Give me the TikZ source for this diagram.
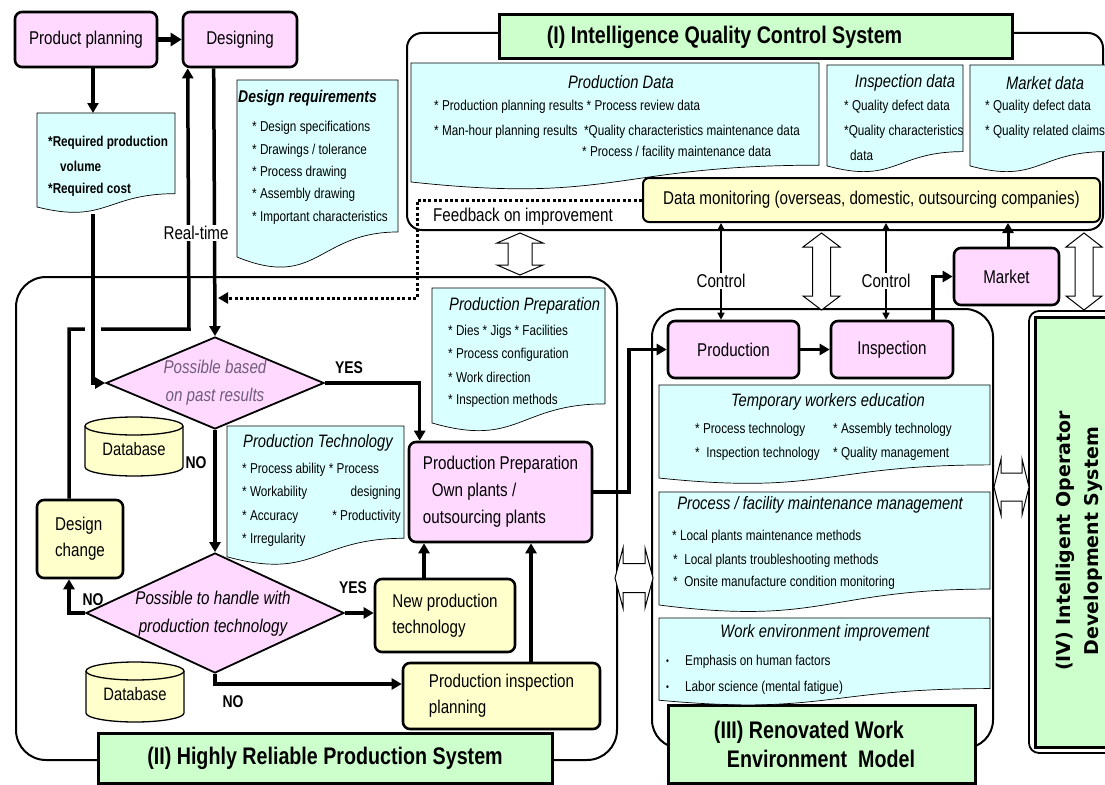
\documentclass[tikz,border=0pt]{standalone}
\usepackage{fontspec}
\setmainfont{Liberation Sans}[FakeStretch=0.82]
\newfontfamily\ivfont{DejaVu Sans}
\usetikzlibrary{arrows.meta,shapes.geometric}

\definecolor{pinkc}{RGB}{255,217,255}
\definecolor{cyanc}{RGB}{217,255,255}
\definecolor{yellowc}{RGB}{255,255,204}
\definecolor{greenc}{RGB}{204,255,204}
\definecolor{dtext}{RGB}{112,92,122}

\newcommand\setfs[2]{\fontsize{#1pt}{#2pt}\selectfont}

% document symbol with a wavy bottom: x1, top, x2, height
\newcommand\docshape[4]{%
  \filldraw[docfill] (#1,#2) -- (#3,#2) -- (#3,{#2+0.802*#4})
    .. controls ({0.5*(#1+#3)},{#2+0.802*#4}) and ({0.5*(#1+#3)},{#2+1.1075*#4}) ..
    (#1,{#2+0.934*#4}) -- cycle;}

% database cylinder: centre x, top, x radius, bottom
\newcommand\dbcyl[4]{%
  \filldraw[dbst] ({#1-#3},{#2+9}) -- ({#1-#3},{#4-9})
    .. controls ({#1-#3},{#4-4}) and ({#1-0.552*#3},{#4}) .. (#1,#4)
    .. controls ({#1+0.552*#3},{#4}) and ({#1+#3},{#4-4}) .. ({#1+#3},{#4-9})
    -- ({#1+#3},{#2+9});
  \filldraw[dbst] (#1,{#2+9}) ellipse [x radius=#3, y radius=9];}

% hollow double arrows
\newcommand\vdarrow[6]{% cx, ytop, ybottom, head half, shaft half, head length
  \filldraw[hollow] (#1,#2) -- ({#1+#4},{#2+#6}) -- ({#1+#5},{#2+#6}) -- ({#1+#5},{#3-#6})
    -- ({#1+#4},{#3-#6}) -- (#1,#3) -- ({#1-#4},{#3-#6}) -- ({#1-#5},{#3-#6})
    -- ({#1-#5},{#2+#6}) -- ({#1-#4},{#2+#6}) -- cycle;}
\newcommand\hdarrow[6]{% cy, xleft, xright, head half, shaft half, head length
  \filldraw[hollow] (#2,#1) -- ({#2+#6},{#1-#4}) -- ({#2+#6},{#1-#5}) -- ({#3-#6},{#1-#5})
    -- ({#3-#6},{#1-#4}) -- (#3,#1) -- ({#3-#6},{#1+#4}) -- ({#3-#6},{#1+#5})
    -- ({#2+#6},{#1+#5}) -- ({#2+#6},{#1+#4}) -- cycle;}

\tikzset{
  box/.style={draw, line width=2.6pt, rounded corners=7pt, inner sep=0pt, font=\setfs{18.5}{26}},
  pinkbox/.style={box, fill=pinkc},
  ylbox/.style={box, fill=yellowc},
  titlebox/.style={draw, line width=3pt, fill=greenc, inner sep=0pt, font=\bfseries\setfs{24}{29}, align=center},
  sysframe/.style={draw, line width=2pt, rounded corners=#1},
  docfill/.style={draw, line width=0.7pt, fill=cyanc},
  item/.style={inner sep=0pt, anchor=west, font=\setfs{14.3}{17}},
  doctitle/.style={inner sep=0pt, font=\itshape\setfs{18}{20}},
  flow/.style={line width=3.5pt, -{Triangle[length=10pt,width=11pt]}},
  ctrl/.style={line width=1.3pt, {Triangle[length=7pt,width=7pt]}-{Triangle[length=7pt,width=7pt]}},
  lbl/.style={inner sep=1.5pt, font=\setfs{18.5}{20}},
  yn/.style={inner sep=0pt, font=\bfseries\setfs{17}{19}},
  hollow/.style={draw, line width=1pt, fill=white},
  dbst/.style={draw, line width=1.3pt, fill=yellowc},
  decision/.style={diamond, draw, line width=1.8pt, fill=pinkc, inner sep=0pt},
  fbline/.style={line width=3pt, dash pattern=on 3pt off 2.4pt, -{Triangle[length=10pt,width=11pt]}},
}

\begin{document}
\begin{tikzpicture}[x=1pt,y=-1pt]
\useasboundingbox (0,0) rectangle (1105,784);

% ---------- system frames ----------
\draw[sysframe=15pt] (407,33) rectangle (1103,230);
\draw[sysframe=30pt] (16,277) rectangle (617,760);
\draw[sysframe=28pt] (652,309) rectangle (993,748);
\draw[line width=1.8pt, rounded corners=10pt] (1029,311) rectangle (1135,753);

% ---------- interfaces between the systems ----------
\vdarrow{520}{233}{275}{23}{12}{10}
\vdarrow{821.5}{233}{310}{18.5}{9}{14}
\vdarrow{1084}{233}{310}{18}{9}{14}
\hdarrow{578}{615}{653}{30}{14.5}{8}
\hdarrow{487}{994}{1029}{28}{14}{7}

% ---------- system titles ----------
\node[titlebox, minimum width=513, minimum height=44] (t1) at (755.5,37) {(I) Intelligence Quality Control System\hspace*{62pt}};
\node[titlebox, minimum width=454, minimum height=50] (t2) at (325,758) {(II) Highly Reliable Production System};
\node[titlebox, minimum width=307, minimum height=78, align=left] (t3) at (821.5,744) {(III) Renovated Work\\\hspace*{13pt}Environment\ \ Model\hspace*{14pt}};
\node[draw, line width=3pt, fill=greenc, minimum width=90, minimum height=430, inner sep=0pt] (t4) at (1080,532) {};
\node[rotate=90, inner sep=0pt, font=\ivfont\bfseries\setfs{19}{28}, align=center] (t4text) at (1079,541) {(IV) Intelligent Operator\\Development System};

% ---------- data documents of system (I) ----------
\docshape{411}{63}{819}{127.4}
\node[doctitle] (pdt) at (621,82) {Production Data};
\node[item] (pd1) at (434,107) {* Production planning results * Process review data};
\node[item] (pd2) at (434,132) {* Man-hour planning results \ *Quality characteristics maintenance data};
\node[item] (pd3) at (582,153) {* Process / facility maintenance data};

\docshape{827}{65}{963}{108}
\node[doctitle] (idt) at (905,83) {Inspection data};
\node[item] (id1) at (844,107) {* Quality defect data};
\node[item] (id2) at (844,132) {*Quality characteristics};
\node[item] (id3) at (850,155) {data};

\docshape{970}{65}{1106}{108}
\node[doctitle] (mdt) at (1045,83) {Market data};
\node[item] (md1) at (985,107) {* Quality defect data};
\node[item] (md2) at (985,132) {* Quality related claims};

\node[ylbox, line width=2pt, rounded corners=6pt, minimum width=457, minimum height=44] (mon) at (871.5,200) {Data monitoring (overseas, domestic, outsourcing companies)};
\node[lbl] (fbl) at (523,217) {Feedback on improvement};

% ---------- planning / design ----------
\node[pinkbox, minimum width=142, minimum height=55] (plan) at (86,39.5) {Product planning};
\node[pinkbox, minimum width=114, minimum height=55] (des) at (240,39.5) {Designing};

\docshape{37}{113}{175}{100.6}
\node[item, font=\bfseries\setfs{14.3}{17}] (rq1) at (48,143) {*Required production};
\node[item, font=\bfseries\setfs{14.3}{17}] (rq2) at (60,166) {volume};
\node[item, font=\bfseries\setfs{14.3}{17}] (rq3) at (48,190) {*Required cost};
\coordinate (reqtop) at (93,113);
\coordinate (reqbot) at (93,214);

\docshape{237}{80}{398}{189.5}
\node[doctitle, anchor=west, font=\bfseries\itshape\setfs{17}{20}] (drt) at (238,98) {Design requirements};
\node[item] (dr1) at (252,128) {* Design specifications};
\node[item] (dr2) at (252,151) {* Drawings / tolerance};
\node[item] (dr3) at (252,173) {* Process drawing};
\node[item] (dr4) at (252,195) {* Assembly drawing};
\node[item] (dr5) at (252,218) {* Important characteristics};

% ---------- system (II) ----------
\node[decision, minimum width=218, minimum height=92] (d1) at (215,383) {};
\node[font=\itshape\setfs{18.5}{28}, text=dtext, align=center, inner sep=0pt] (d1t) at (215,383) {Possible based\\on past results};
\node[decision, minimum width=258, minimum height=120] (d2) at (215,613) {};
\node[font=\itshape\setfs{18.5}{28}, align=center, inner sep=0pt] (d2t) at (213,614) {Possible to handle with\\production technology};

\dbcyl{134}{417}{49}{476}
\node[font=\setfs{18}{20}] (db1) at (134,449) {Database};
\dbcyl{135}{662}{49}{722}
\node[font=\setfs{18}{20}] (db2) at (135,694) {Database};

\docshape{227}{426}{404}{140}
\node[doctitle] (ptt) at (318,443) {Production Technology};
\node[item] (pt1) at (242,470) {* Process ability * Process};
\node[item] (pt2) at (242,493) {* Workability};
\node[item, anchor=east] (pt3) at (401,493) {designing};
\node[item] (pt4) at (242,517) {* Accuracy};
\node[item, anchor=east] (pt5) at (401,517) {* Productivity};
\node[item] (pt6) at (242,540) {* Irregularity};

\docshape{432}{288}{605}{144.5}
\node[doctitle, anchor=west] (ppt) at (449,306) {Production Preparation};
\node[item] (pp1) at (448,332) {* Dies * Jigs * Facilities};
\node[item] (pp2) at (448,355) {* Process configuration};
\node[item] (pp3) at (448,377) {* Work direction};
\node[item] (pp4) at (448,401) {* Inspection methods};

\node[pinkbox, minimum width=183, minimum height=100, align=left, font=\setfs{18.5}{27}] (prep) at (500.5,492)
  {Production Preparation\\\hspace*{9pt}Own plants /\\outsourcing plants};
\node[ylbox, minimum width=86, minimum height=78, align=left] (dchg) at (80,539) {Design\\change};
\node[ylbox, minimum width=140, minimum height=73, align=left] (newpt) at (445,615.5) {New production\\technology};
\node[ylbox, minimum width=197, minimum height=66, align=left] (pip) at (501.5,696) {Production inspection\\planning};

% ---------- system (III) ----------
\node[pinkbox, minimum width=131, minimum height=57] (prod) at (733.5,349.5) {Production};
\node[pinkbox, minimum width=122, minimum height=57] (insp) at (892,349.5) {Inspection};
\node[pinkbox, minimum width=105, minimum height=57] (mkt) at (1006.5,276.5) {Market};

\docshape{659}{385}{990}{99.6}
\node[doctitle] (twt) at (828,402) {Temporary workers education};
\node[item] (tw1) at (695,430) {* Process technology};
\node[item] (tw2) at (833,430) {* Assembly technology};
\node[item] (tw3) at (695,454) {*\ \ Inspection technology};
\node[item] (tw4) at (833,454) {* Quality management};

\docshape{659}{492}{990}{121}
\node[doctitle] (fmt) at (820,505) {Process / facility maintenance management};
\node[item] (fm1) at (672,537) {* Local plants maintenance methods};
\node[item] (fm2) at (673,561) {*\ \ Local plants troubleshooting methods};
\node[item] (fm3) at (673,583) {*\ \ Onsite manufacture condition monitoring};

\docshape{659}{618}{990}{88}
\node[doctitle] (wet) at (825,633) {Work environment improvement};
\node[item, font=\setfs{10}{12}] (we0a) at (666,662) {\textbullet};
\node[item] (we1) at (685,662) {Emphasis on human factors};
\node[item, font=\setfs{10}{12}] (we0b) at (666,688) {\textbullet};
\node[item] (we2) at (685,688) {Labor science (mental fatigue)};

% ---------- connectors ----------
\draw[flow, line width=4.5pt, -{Triangle[length=11pt,width=13pt]}] (plan) -- (des);
\draw[flow] (plan.south -| reqtop) -- (reqtop);
\coordinate (rtcorner) at (189,329);
\draw[flow] ([xshift=-11pt]dchg.north) |- (rtcorner) -- ([xshift=6pt]des.south west);
\fill[white] (85,324) rectangle (101,334);
\draw[flow] (reqbot) |- (d1.west);
\draw[flow] ([xshift=32pt]des.south west) -- (d1.north);
\coordinate (fbcorner) at (417,298);
\coordinate (fbend) at (218,298);
\draw[fbline] (mon.west) -| (fbcorner) -- (fbend);
\node[lbl, fill=white] (rt) at (196,233) {Real-time};

\draw[flow] (d1.east) -| ([xshift=12pt]prep.north west);
\draw[flow] (d1.south) -- (d2.north);
\draw[flow] (d2.west) -| ([xshift=-11pt]dchg.south);
\draw[flow] (d2.east) -- (d2.east -| newpt.west);
\draw[flow] (d2.south) |- ([yshift=12pt]pip.west);
\draw[flow] ([xshift=-21pt]newpt.north) -- ([xshift=-21pt]newpt.north |- prep.south);
\draw[flow] ([xshift=29.5pt]pip.north) -- ([xshift=29.5pt]pip.north |- prep.south);

\coordinate (ppturn) at (629,349.5);
\draw[flow] (prep.east) -| (ppturn) -- (prod.west);
\draw[flow] (prod) -- (insp);
\draw[flow] ([xshift=41pt]insp.north) |- (mkt.west);
\draw[flow, line width=3pt] ([xshift=1.5pt]mkt.north) -- ([xshift=1.5pt]mkt.north |- mon.south);
\draw[ctrl] ([xshift=-12.5pt]prod.north) -- ([xshift=-12.5pt]prod.north |- mon.south);
\draw[ctrl] ([xshift=-6pt]insp.north) -- ([xshift=-6pt]insp.north |- mon.south);
\node[lbl, fill=white] (c1) at (721,281) {Control};
\node[lbl, fill=white] (c2) at (886,281) {Control};

% ---------- decision labels ----------
\node[yn] (yes1) at (349,368) {YES};
\node[yn] (no1) at (196,463) {NO};
\node[yn] (no2) at (93,600) {NO};
\node[yn] (yes2) at (353,588) {YES};
\node[yn] (no3) at (233,702) {NO};

\end{tikzpicture}
\end{document}
